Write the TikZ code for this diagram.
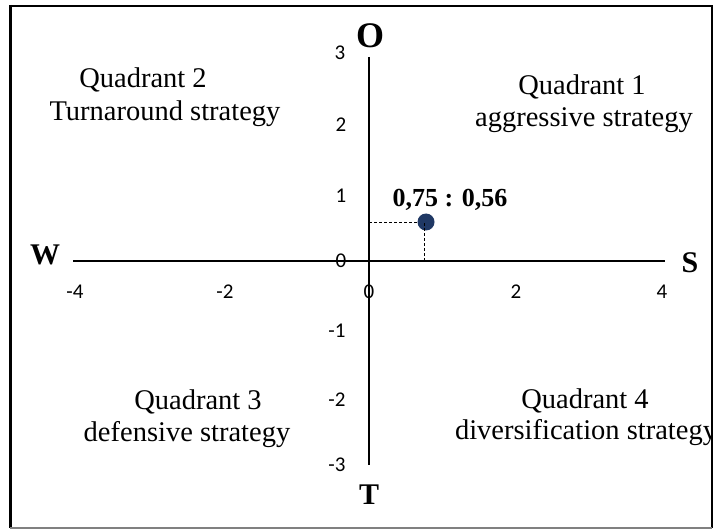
\documentclass[tikz,border=0pt]{standalone}
\usepackage{fontspec}
\setmainfont{Liberation Serif}
\newfontfamily\tickfont{Carlito}
\begin{document}
\begin{tikzpicture}[x=1pt,y=-1pt,
  quad/.style={anchor=base,inner sep=0pt,font=\fontsize{28.5}{32}\selectfont},
  dir/.style={inner sep=0pt,font=\fontsize{30}{32}\selectfont\bfseries},
  tick/.style={inner sep=0pt,font=\tickfont\fontsize{21}{24}\selectfont},
  axis/.style={line width=1.8pt},
  guide/.style={dashed,line width=0.8pt,dash pattern=on 3pt off 2pt}]
\useasboundingbox (0,0) rectangle (714,529);
\fill[white] (0,0) rectangle (714,529);
% axes
\coordinate (xl) at (73,261);
\coordinate (xr) at (665,261);
\coordinate (yt) at (369,57);
\coordinate (yb) at (369,465);
\draw[axis] (xl) -- (xr);
\draw[axis] (yt) -- (yb);
% direction labels
\node[dir,font=\fontsize{36}{38}\selectfont\bfseries] (O) at (370,36) {O};
\node[dir] (W) at (45,255) {W};
\node[dir] (S) at (690,263) {S};
\node[dir] (T) at (369,495) {T};
% ticks y
\node[tick] (y3) at (340,53) {3};
\node[tick] (y2) at (341,125) {2};
\node[tick] (y1) at (341,196) {1};
\node[tick] (y0) at (341,261) {0};
\node[tick] (ym1) at (337,331) {-1};
\node[tick] (ym2) at (337,400) {-2};
\node[tick] (ym3) at (337,465) {-3};
% ticks x
\node[tick] (xm4) at (75,292) {-4};
\node[tick] (xm2) at (225,292) {-2};
\node[tick] (x0) at (369,292) {0};
\node[tick] (x2) at (516,292) {2};
\node[tick] (x4) at (662,292) {4};
% point
\coordinate (px) at (369,222);
\coordinate (py) at (424,261);
\node[circle,fill={rgb,255:red,31;green,56;blue,100},minimum size=17pt,inner sep=0pt] (pt) at (426,222) {};
\draw[guide] (px) -- (pt.west);
\draw[guide] (py) -- (424,222);
\node[inner sep=0pt,anchor=base,font=\fontsize{26}{28}\selectfont\bfseries] (val) at (450,207) {0,75 : 0,56};
% quadrant texts
\begin{scope}
\clip (0,0) rectangle (711,529);
\node[quad] (q1a) at (582,95) {Quadrant 1};
\node[quad] (q1b) at (584,127) {aggressive strategy};
\node[quad] (q2a) at (143,88) {Quadrant 2};
\node[quad] (q2b) at (165,121) {Turnaround strategy};
\node[quad] (q3a) at (198,409) {Quadrant 3};
\node[quad] (q3b) at (187,441) {defensive strategy};
\node[quad] (q4a) at (585,408) {Quadrant 4};
\node[quad] (q4b) at (586,439) {diversification strategy};
\end{scope}
% frame
\draw[line width=2pt] (10,6) -- (712,6) -- (712,528);
\draw[line width=3pt] (10,5) -- (10,528);
\draw[line width=1.5pt,gray] (10,528) -- (712,528);
\end{tikzpicture}
\end{document}
